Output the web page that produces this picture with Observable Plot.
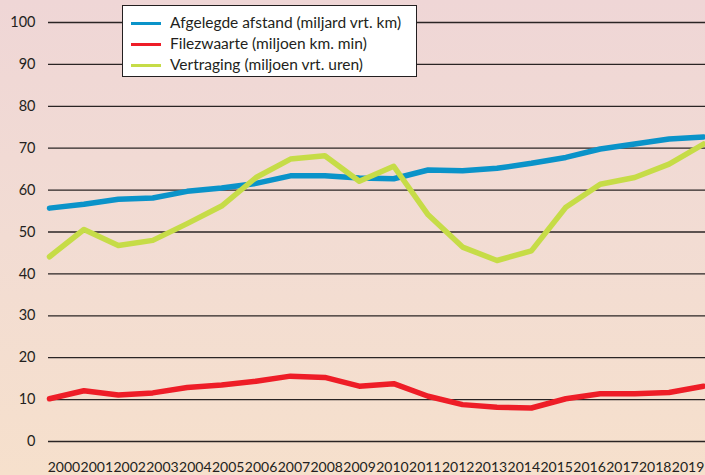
<!DOCTYPE html>
<html><head><meta charset="utf-8">
<script src="https://cdn.jsdelivr.net/npm/d3@7"></script>
<script src="https://cdn.jsdelivr.net/npm/@observablehq/plot@0.6"></script>
<style>
html,body{margin:0;padding:0;}
body{width:705px;height:475px;overflow:hidden;}
#wrap{position:relative;width:705px;height:475px;background:linear-gradient(to bottom,#efd6d6 0%,#f2dcd3 50%,#f6e0cc 100%);font-family:Lato,sans-serif;color:#231f20;}
#wrap svg{display:block;overflow:visible;}
#legend{position:absolute;left:122px;top:5px;width:295px;height:72px;box-sizing:border-box;border:1.5px solid #231f20;background:#fff;}
.row{position:absolute;left:0;height:20px;width:100%;}
.sw{position:absolute;left:8px;top:9px;width:30px;height:3px;}
.lb{position:absolute;left:47px;top:0px;font-size:15.5px;line-height:19px;white-space:nowrap;}
</style>
</head><body>
<div id="wrap"><div id="chart"></div><div id="xlabels"></div><div id="legend"></div></div>
<script>
const years = [2000,2001,2002,2003,2004,2005,2006,2007,2008,2009,2010,2011,2012,2013,2014,2015,2016,2017,2018,2019];
const afstand = [55.7,56.6,57.8,58.1,59.7,60.5,61.6,63.4,63.4,62.9,62.7,64.8,64.6,65.2,66.4,67.8,69.8,71.0,72.2,72.7];
const filezwaarte = [10.2,12.1,11.1,11.6,12.9,13.5,14.4,15.6,15.3,13.2,13.8,10.8,8.8,8.2,8.0,10.2,11.4,11.4,11.7,13.2];
const vertraging = [44.1,50.6,46.8,48.0,52.0,56.2,63.0,67.4,68.2,62.1,65.7,54.1,46.4,43.2,45.5,55.9,61.4,63.0,66.2,71.0];
const yTicks = [0,10,20,30,40,50,60,70,80,90,100];
const seriesNames = ["Afgelegde afstand (miljard vrt. km)","Filezwaarte (miljoen km. min)","Vertraging (miljoen vrt. uren)"];
const seriesColors = ["#0a93c9","#ee1d27","#c6dc47"];

const mk = (vals) => years.map((y,i)=>({year:y, value:vals[i]}));
const dA = mk(afstand), dF = mk(filezwaarte), dV = mk(vertraging);

const main = Plot.plot({
  width:705, height:452,
  marginLeft:49, marginRight:2, marginTop:22, marginBottom:11,
  x:{domain:[2000,2019], axis:null},
  y:{domain:[0,100], axis:null},
  style:{background:"transparent", fontFamily:"Lato, sans-serif", fontSize:"14px", color:"#231f20"},
  marks:[
    Plot.ruleY(yTicks,{stroke:"#2a2424", strokeWidth:1.3, insetLeft:-1, insetRight:-2}),
    Plot.axisY({ticks:yTicks, tickSize:0, tickPadding:14, label:null, fontSize:14.5}),
    Plot.line(dF,{x:"year", y:"value", stroke:seriesColors[1], strokeWidth:5.5}),
    Plot.line(dA,{x:"year", y:"value", stroke:seriesColors[0], strokeWidth:5.5}),
    Plot.line(dV,{x:"year", y:"value", stroke:seriesColors[2], strokeWidth:5.5})
  ]
});
document.getElementById("chart").appendChild(main);

const xl = Plot.plot({
  width:705, height:23, marginTop:0, marginBottom:0, marginLeft:0, marginRight:0,
  x:{type:"band", domain:years, range:[47,704], padding:0, round:false, axis:null},
  style:{background:"transparent", fontFamily:"Lato, sans-serif", fontSize:"14px", color:"#231f20"},
  marks:[
    Plot.text(years,{x:d=>d, text:d=>String(d), frameAnchor:"middle", dy:4, fontSize:14, fill:"#231f20"})
  ]
});
document.getElementById("xlabels").appendChild(xl);

const leg = document.getElementById("legend");
seriesNames.forEach((n,i)=>{
  const r = document.createElement("div"); r.className="row"; r.style.top=(7+i*20.8)+"px";
  const s = document.createElement("div"); s.className="sw"; s.style.background=seriesColors[i];
  const t = document.createElement("div"); t.className="lb"; t.textContent=n;
  r.appendChild(s); r.appendChild(t); leg.appendChild(r);
});
</script>
</body></html>
